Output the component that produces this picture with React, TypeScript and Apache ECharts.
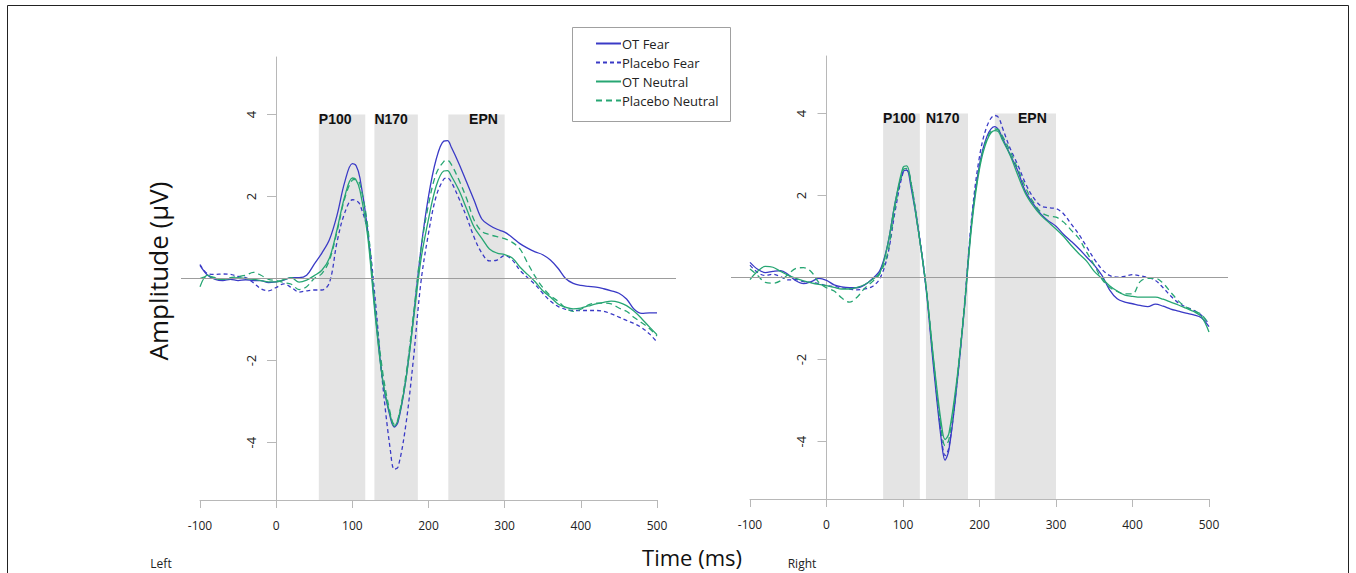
import React, { useEffect, useRef } from "react";
import * as echarts from "echarts";

// Time points (ms)
const times = [-100,-90,-80,-70,-60,-50,-40,-30,-20,-10,0,10,20,30,40,50,60,70,80,90,100,105,110,120,130,140,150,155,160,170,180,190,200,210,220,225,230,240,250,260,270,280,290,300,310,320,330,340,350,360,370,380,390,400,410,420,430,440,450,460,470,480,490,500];

// Left hemisphere (µV)
const leftOTFear = [0.32,0.08,-0.02,-0.05,-0.02,-0.05,-0.03,-0.05,-0.05,-0.1,-0.08,-0.04,0.02,0.02,0.08,
  0.35,0.62,0.95,1.55,2.35,2.8,2.75,2.45,1.2,-0.8,-2.5,-3.4,-3.62,-3.5,-2.5,-1.0,0.7,2.0,2.9,3.35,3.36,
  3.2,2.8,2.35,1.9,1.45,1.3,1.2,1.13,1.0,0.85,0.74,0.65,0.58,0.45,0.25,0.0,-0.12,-0.17,-0.19,-0.21,-0.25,-0.3,-0.36,-0.5,-0.75,-0.85,-0.84,-0.84];
const leftPlaceboFear = [0.34,0.12,0.1,0.11,0.1,0.05,0.02,-0.1,-0.25,-0.3,-0.22,-0.13,-0.22,-0.33,-0.3,
  -0.28,-0.28,-0.1,0.9,1.6,1.92,1.9,1.8,1.15,-0.5,-2.6,-4.2,-4.65,-4.6,-3.6,-2.0,-0.1,1.1,2.0,2.42,2.45,
  2.35,1.95,1.5,1.0,0.62,0.43,0.45,0.56,0.45,0.2,0.02,-0.15,-0.36,-0.55,-0.68,-0.75,-0.78,-0.78,-0.78,-0.78,-0.8,-0.86,-0.94,-1.02,-1.1,-1.2,-1.35,-1.55];
const leftOTNeutral = [-0.2,0.08,0.0,-0.02,0.0,0.02,0.0,-0.02,-0.05,-0.08,-0.08,-0.03,0.02,-0.09,-0.04,
  0.07,0.2,0.5,1.2,2.0,2.45,2.4,2.15,1.05,-0.9,-2.5,-3.35,-3.6,-3.45,-2.5,-1.05,0.45,1.45,2.25,2.62,2.63,
  2.5,2.15,1.7,1.25,0.98,0.72,0.62,0.58,0.5,0.28,0.1,-0.08,-0.3,-0.45,-0.62,-0.7,-0.74,-0.72,-0.67,-0.62,-0.58,-0.55,-0.58,-0.66,-0.8,-0.98,-1.18,-1.37];
const leftPlaceboNeutral = [0.0,0.05,0.02,-0.02,0.02,0.05,0.08,0.15,0.08,-0.02,-0.05,-0.1,-0.14,-0.27,-0.2,
  0.0,0.12,0.45,1.15,1.95,2.4,2.42,2.3,1.3,-0.7,-2.3,-3.3,-3.55,-3.42,-2.4,-0.9,0.7,1.8,2.55,2.85,2.88,
  2.78,2.4,1.95,1.42,1.15,1.07,1.02,0.97,0.88,0.72,0.38,0.05,-0.22,-0.42,-0.55,-0.72,-0.8,-0.75,-0.64,-0.6,-0.6,-0.62,-0.72,-0.8,-0.95,-1.08,-1.22,-1.4];

// Right hemisphere (µV)
const rightOTFear = [0.37,0.2,0.12,0.15,0.17,0.07,-0.08,-0.15,-0.1,-0.02,-0.07,-0.18,-0.23,-0.25,-0.25,
  -0.18,-0.03,0.18,0.8,1.85,2.58,2.62,2.25,1.15,-0.25,-2.2,-3.95,-4.45,-4.2,-2.7,-0.8,1.4,2.75,3.45,3.68,3.6,
  3.4,3.0,2.6,2.1,1.8,1.55,1.38,1.25,1.05,0.88,0.7,0.5,0.3,0.05,-0.3,-0.52,-0.6,-0.64,-0.68,-0.71,-0.65,-0.7,-0.77,-0.82,-0.87,-0.91,-0.98,-1.2];
const rightPlaceboFear = [0.3,0.12,0.05,0.08,0.02,-0.06,-0.05,-0.1,-0.12,-0.15,-0.2,-0.22,-0.25,-0.28,-0.3,
  -0.28,-0.22,-0.02,0.55,1.65,2.55,2.62,2.35,1.2,-0.2,-2.1,-3.85,-4.34,-4.15,-2.65,-0.75,1.5,2.95,3.7,3.95,3.9,
  3.65,3.15,2.75,2.3,1.96,1.75,1.7,1.68,1.55,1.3,1.05,0.75,0.45,0.2,0.05,0.01,0.03,0.07,0.04,0.0,-0.07,-0.25,-0.45,-0.62,-0.72,-0.8,-0.92,-1.13];
const rightOTNeutral = [-0.05,0.15,0.27,0.25,0.15,0.05,-0.02,-0.08,-0.13,-0.17,-0.2,-0.24,-0.28,-0.28,-0.24,
  -0.17,-0.05,0.12,0.8,1.85,2.68,2.72,2.35,1.15,-0.2,-2.0,-3.55,-3.95,-3.8,-2.55,-0.8,1.3,2.65,3.35,3.58,3.55,
  3.35,2.98,2.5,2.05,1.75,1.52,1.35,1.18,1.0,0.78,0.58,0.4,0.15,-0.02,-0.2,-0.33,-0.43,-0.46,-0.48,-0.48,-0.48,-0.53,-0.6,-0.67,-0.75,-0.83,-0.95,-1.33];
const rightPlaceboNeutral = [0.21,0.05,-0.12,-0.14,-0.08,0.08,0.22,0.24,0.14,-0.12,-0.25,-0.33,-0.5,-0.6,-0.48,
  -0.26,-0.1,0.1,0.6,1.75,2.62,2.66,2.35,1.15,-0.2,-2.05,-3.7,-4.1,-3.95,-2.6,-0.72,1.4,2.7,3.4,3.62,3.6,
  3.45,3.08,2.65,2.2,1.85,1.6,1.5,1.47,1.35,1.15,0.95,0.62,0.3,-0.04,-0.24,-0.34,-0.4,-0.4,-0.1,-0.02,-0.02,-0.14,-0.36,-0.57,-0.72,-0.81,-0.9,-1.15];

// Components (ms windows)
const bandNames = ["P100", "N170", "EPN"];
const leftBands = [[56, 117], [129, 186], [226, 300]];
const rightBands = [[74, 122], [130, 185], [220, 300]];

const seriesNames = ["OT Fear", "Placebo Fear", "OT Neutral", "Placebo Neutral"];
const xTicks = [-100, 0, 100, 200, 300, 400, 500];
const yTicks = [-4, -2, 2, 4];

const BLUE = "#3a3ac6";
const GREEN = "#27a673";
const AXIS = "#b8b8b8";
const FONT = "Open Sans";

export default function App() {
  const ref = useRef<HTMLDivElement>(null);

  useEffect(() => {
    if (!ref.current) return;
    const chart = echarts.init(ref.current, undefined, { renderer: "svg" });

    const YMIN = -5.4;
    const YMAX = 5.4;

    const grids = [
      { left: 200, top: 57, width: 457, height: 443 },
      { left: 181, top: 57, width: 495, height: 443 },
      { left: 750, top: 56, width: 459, height: 443 },
      { left: 731, top: 56, width: 497, height: 443 },
    ];

    const shownX = (gi: number) => ({
      type: "value",
      gridIndex: gi,
      min: -100,
      max: 500,
      interval: 100,
      axisLine: { onZero: false, lineStyle: { color: AXIS, width: 1 } },
      axisTick: { show: true, length: 8, lineStyle: { color: AXIS }, customValues: xTicks },
      axisLabel: { margin: 19, fontSize: 12, color: "#222", fontFamily: FONT, customValues: xTicks },
      splitLine: { show: false },
    });
    const hiddenX = (gi: number) => ({
      type: "value",
      gridIndex: gi,
      min: -125,
      max: 525,
      show: false,
      splitLine: { show: false },
    });
    // y axis drawn at time 0 (shifted right from the grid's left edge)
    const shownY = (gi: number, shift: number) => ({
      type: "value",
      gridIndex: gi,
      min: YMIN,
      max: YMAX,
      offset: -shift,
      axisLine: { show: true, onZero: false, lineStyle: { color: AXIS, width: 1 } },
      axisTick: { show: true, length: 9, lineStyle: { color: AXIS }, customValues: yTicks },
      axisLabel: {
        rotate: 90,
        align: "center",
        verticalAlign: "bottom",
        margin: 19,
        fontSize: 13,
        color: "#222",
        fontFamily: FONT,
        customValues: yTicks,
      },
      splitLine: { show: false },
    });
    const hiddenY = (gi: number) => ({
      type: "value",
      gridIndex: gi,
      min: YMIN,
      max: YMAX,
      show: false,
      splitLine: { show: false },
    });

    const bandSeries = (xi: number, bands: number[][]) => ({
      type: "line",
      xAxisIndex: xi,
      yAxisIndex: xi,
      data: [],
      silent: true,
      z: 1,
      markArea: {
        silent: true,
        itemStyle: { color: "#e4e4e4" },
        label: {
          show: true,
          position: "insideTopLeft",
          distance: 0,
          offset: [0, -2],
          fontSize: 14,
          fontWeight: "bold",
          fontFamily: "Liberation Sans",
          color: "#111",
        },
        data: bands.map((b, i) => [
          {
            name: bandNames[i],
            xAxis: b[0],
            yAxis: 4,
            label: i === 2 ? { position: "insideTop", offset: [7, -2] } : undefined,
          },
          { xAxis: b[1], yAxis: YMIN },
        ]),
      },
    });

    const zeroSeries = (xi: number) => ({
      type: "line",
      xAxisIndex: xi,
      yAxisIndex: xi,
      data: [],
      silent: true,
      z: 2,
      markLine: {
        silent: true,
        symbol: ["none", "none"],
        label: { show: false },
        lineStyle: { color: "#9d9d9d", width: 1, type: "solid" },
        data: [{ yAxis: 0 }],
      },
    });

    const styles = [
      { color: BLUE, type: "solid" },
      { color: BLUE, type: [4, 3] },
      { color: GREEN, type: "solid" },
      { color: GREEN, type: [6, 4] },
    ];

    const dataSeries = (xi: number, arrays: number[][]) =>
      arrays.map((arr, i) => ({
        name: seriesNames[i],
        type: "line",
        xAxisIndex: xi,
        yAxisIndex: xi,
        data: times.map((t, k) => [t, arr[k]]),
        showSymbol: false,
        symbol: "none",
        smooth: 0.35,
        z: 3,
        color: styles[i].color,
        lineStyle: { color: styles[i].color, width: 1.3, type: styles[i].type },
      }));

    chart.setOption({
      animation: false,
      backgroundColor: "#ffffff",
      grid: grids,
      xAxis: [shownX(0), hiddenX(1), shownX(2), hiddenX(3)],
      yAxis: [shownY(0, 76), hiddenY(1), shownY(2, 76.5), hiddenY(3)],
      legend: {
        data: seriesNames,
        orient: "vertical",
        left: 595,
        top: 37,
        padding: 0,
        itemWidth: 25,
        itemHeight: 12,
        itemGap: 6,
        itemStyle: { opacity: 0, borderWidth: 0 },
        textStyle: { fontSize: 13, color: "#222", fontFamily: FONT, padding: [0, 0, 0, -4] },
      },
      graphic: [
        {
          type: "rect",
          shape: { x: 7.5, y: 5.5, width: 1341, height: 600 },
          style: { fill: "none", stroke: "#222", lineWidth: 1 },
          silent: true,
        },
        {
          type: "rect",
          shape: { x: 572.5, y: 27.5, width: 158, height: 94 },
          style: { fill: "none", stroke: "#a0a0a0", lineWidth: 1 },
          silent: true,
        },
        {
          type: "text",
          x: 158,
          y: 271,
          rotation: Math.PI / 2,
          style: {
            text: "Amplitude (µV)",
            fontSize: 26,
            fontFamily: FONT,
            fill: "#111",
            align: "center",
            verticalAlign: "middle",
          },
        },
        {
          type: "text",
          x: 692,
          y: 557,
          style: {
            text: "Time (ms)",
            fontSize: 22,
            fontFamily: FONT,
            fill: "#111",
            align: "center",
            verticalAlign: "middle",
          },
        },
        {
          type: "text",
          x: 161,
          y: 563,
          style: { text: "Left", fontSize: 12, fontFamily: FONT, fill: "#222", align: "center", verticalAlign: "middle" },
        },
        {
          type: "text",
          x: 802,
          y: 563,
          style: { text: "Right", fontSize: 12, fontFamily: FONT, fill: "#222", align: "center", verticalAlign: "middle" },
        },
      ],
      series: [
        bandSeries(0, leftBands),
        zeroSeries(1),
        ...dataSeries(0, [leftOTFear, leftPlaceboFear, leftOTNeutral, leftPlaceboNeutral]),
        bandSeries(2, rightBands),
        zeroSeries(3),
        ...dataSeries(2, [rightOTFear, rightPlaceboFear, rightOTNeutral, rightPlaceboNeutral]),
      ],
    });

    return () => chart.dispose();
  }, []);

  return (
    <div
      ref={ref}
      style={{ position: "fixed", left: 0, top: 0, width: 1356, height: 573, background: "#fff" }}
    />
  );
}
